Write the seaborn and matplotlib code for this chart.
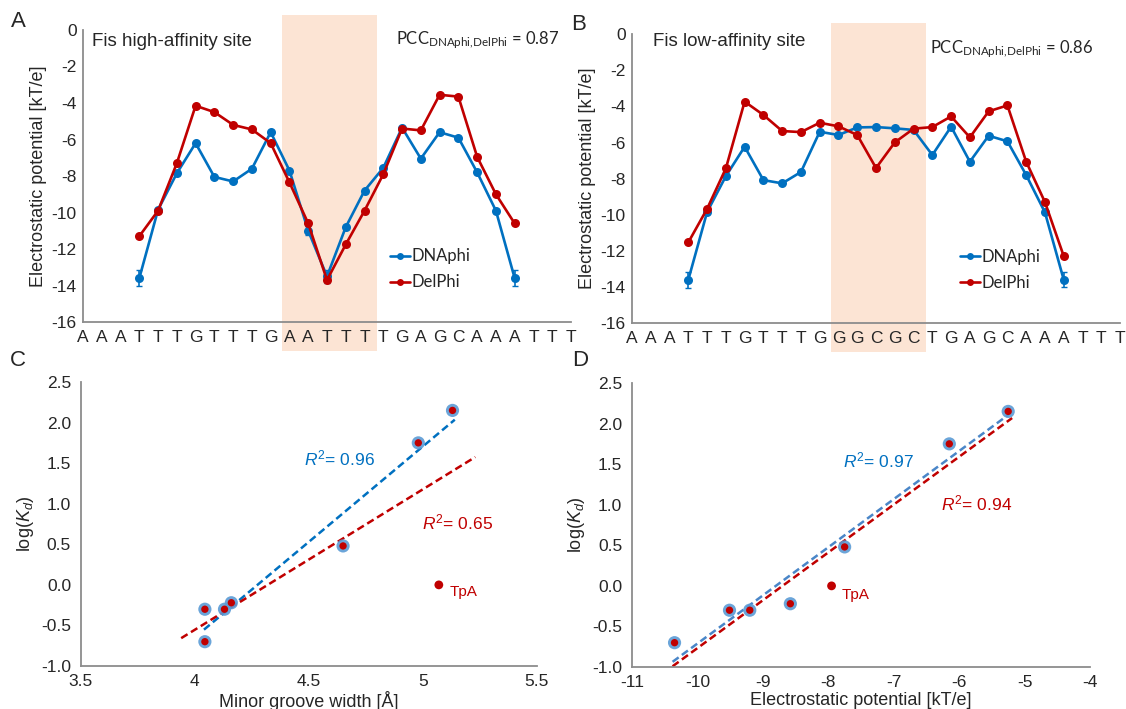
import matplotlib
matplotlib.use('Agg')
import matplotlib.pyplot as plt
import numpy as np
import seaborn as sns
from matplotlib.patches import Rectangle

# 序列 (x 轴标签)
seq_high = list("AAATTTGTTTGAATTTTGAGCAAATTT")
seq_low = list("AAATTTGTTTGGGCGCTGAGCAAATTT")

# 有数值的碱基位置 (序列下标)
site_pos = list(range(3, 24))

# A: Fis high-affinity site
high_dnaphi = [-13.6, -9.85, -7.85, -6.2, -8.05, -8.3, -7.6, -5.6, -7.7, -11.0, -13.5,
               -10.8, -8.8, -7.55, -5.35, -7.05, -5.6, -5.9, -7.8, -9.9, -13.6]
high_dnaphi_err = [0.45, 0.1, 0.1, 0.05, 0.05, 0.05, 0.05, 0.05, 0.1, 0.25, 0.35,
                   0.1, 0.05, 0.05, 0.05, 0.05, 0.05, 0.05, 0.05, 0.1, 0.45]
high_delphi = [-11.3, -9.9, -7.3, -4.15, -4.5, -5.2, -5.45, -6.2, -8.35, -10.6, -13.7,
               -11.75, -9.9, -7.9, -5.4, -5.5, -3.55, -3.65, -6.95, -9.0, -10.6]

# B: Fis low-affinity site
low_dnaphi = [-13.6, -9.85, -7.86, -6.23, -8.08, -8.26, -7.63, -5.4, -5.58, -5.16, -5.14,
              -5.21, -5.3, -6.69, -5.12, -7.06, -5.62, -5.93, -7.8, -9.87, -13.6]
low_dnaphi_err = [0.45, 0.1, 0.1, 0.05, 0.05, 0.05, 0.05, 0.05, 0.05, 0.05, 0.05,
                  0.05, 0.05, 0.05, 0.05, 0.05, 0.05, 0.05, 0.05, 0.1, 0.4]
low_delphi = [-11.53, -9.67, -7.43, -3.73, -4.47, -5.36, -5.42, -4.9, -5.1, -5.58, -7.41,
              -5.99, -5.23, -5.14, -4.55, -5.71, -4.27, -3.94, -7.06, -9.3, -12.29]

# 高亮区域 (序列下标)
core_span = [10.62, 15.65]

# C/D: 结合常数 vs 形状/静电
log_kd = [-0.70, -0.30, -0.30, -0.22, 0.48, 1.75, 2.15]
groove_width = [4.044, 4.044, 4.13, 4.16, 4.65, 4.98, 5.13]
potential = [-10.35, -9.51, -9.20, -8.58, -7.75, -6.15, -5.25]
tpa_kd = 0.0
tpa_groove = 5.07
tpa_potential = -7.95

# 拟合线范围
fit_c_blue = [4.04, 5.14]
fit_c_red = [3.94, 5.23]
fit_d_blue = [-10.38, -5.25]
fit_d_red = [-10.38, -5.19]

BLUE = '#0070C0'
RED = '#C00000'
LIGHT_BLUE = '#5b9bd5'
BAND = '#fce4d4'
GREY = '#8c8c8c'

sns.set_style('white')
plt.rcParams['font.family'] = ['Liberation Sans', 'DejaVu Sans']
plt.rcParams['axes.unicode_minus'] = False
plt.rcParams['mathtext.fontset'] = 'custom'
plt.rcParams['mathtext.rm'] = 'Liberation Sans'
plt.rcParams['mathtext.it'] = 'Liberation Sans:italic'

fig = plt.figure(figsize=(11.26, 7.09), dpi=100)


def style_axes(ax, ydir='out'):
    sns.despine(ax=ax)
    for side in ['left', 'bottom']:
        ax.spines[side].set_color(GREY)
        ax.spines[side].set_linewidth(1.3)
    ax.tick_params(axis='x', direction='out', length=4, width=1.2, color=GREY,
                   labelsize=12.5, pad=2)
    ax.tick_params(axis='y', direction=ydir, length=5, width=1.2, color=GREY,
                   labelsize=12.5, pad=2)
    ax.set_facecolor('none')


def profile_panel(ax, seq, dnaphi, dnaphi_err, delphi, title, pcc, band_top,
                  title_xy, pcc_xy, legend_xy):
    ax.add_patch(Rectangle((core_span[0], -0.1), core_span[1] - core_span[0],
                           band_top + 0.1, transform=ax.get_xaxis_transform(),
                           facecolor=BAND, edgecolor='none', clip_on=False, zorder=0))
    ax.errorbar(site_pos, dnaphi, yerr=dnaphi_err, fmt='none', ecolor=BLUE,
                elinewidth=1.2, capsize=2.5, zorder=2)
    sns.lineplot(x=site_pos, y=dnaphi, ax=ax, color=BLUE, marker='o', markersize=6.5,
                 markeredgewidth=0, linewidth=1.9, label='DNAphi', zorder=3)
    sns.lineplot(x=site_pos, y=delphi, ax=ax, color=RED, marker='o', markersize=6.5,
                 markeredgewidth=0, linewidth=1.9, label='DelPhi', zorder=4)
    ax.set_xlim(0, len(seq) - 1)
    ax.set_ylim(-16, 0)
    ax.set_yticks(np.arange(-16, 1, 2))
    ax.set_xticks(range(len(seq)))
    ax.set_xticklabels(seq, fontsize=14.5)
    ax.set_ylabel('Electrostatic potential [kT/e]', fontsize=13, labelpad=3)
    style_axes(ax, ydir='inout')
    ax.text(title_xy[0], title_xy[1], title, transform=ax.transAxes, fontsize=13.5,
            va='center', ha='left')
    ax.text(pcc_xy[0], pcc_xy[1],
            r'PCC$_{\mathregular{DNAphi{,}DelPhi}}$ = ' + pcc,
            transform=ax.transAxes, fontsize=12, va='center', ha='right',
            family=['Lato', 'DejaVu Sans'])
    leg = ax.legend(loc='center left', bbox_to_anchor=legend_xy, frameon=False,
                    handlelength=1.2, handletextpad=0.1, labelspacing=0.6,
                    prop={'family': ['Lato', 'DejaVu Sans'], 'size': 12})
    for line in leg.get_lines():
        line.set_markersize(5)
    return leg


def scatter_panel(ax, xs, tpa_x, blue_range, red_range, xlim, xticks, xticklabels,
                  xlabel, r2_blue, r2_red, blue_xy, red_xy, tpa_xy, blue_line_color):
    # 拟合: 蓝线不含 TpA, 红线含 TpA
    xb = np.array(xs)
    yb = np.array(log_kd)
    xr = np.append(xb, tpa_x)
    yr = np.append(yb, tpa_kd)
    pb = np.polyfit(xb, yb, 1)
    pr = np.polyfit(xr, yr, 1)
    ax.plot(blue_range, np.polyval(pb, blue_range), '--', color=blue_line_color,
            linewidth=1.8, dashes=(3, 1.6), zorder=2)
    ax.plot(red_range, np.polyval(pr, red_range), '--', color=RED,
            linewidth=1.8, dashes=(3, 1.6), zorder=2)
    sns.scatterplot(x=xs, y=log_kd, ax=ax, s=90, color=LIGHT_BLUE, edgecolor='none',
                    alpha=0.9, zorder=3)
    sns.scatterplot(x=xs, y=log_kd, ax=ax, s=28, color=RED, edgecolor='none', zorder=4)
    sns.scatterplot(x=[tpa_x], y=[tpa_kd], ax=ax, s=40, color=RED, edgecolor='none',
                    zorder=4)
    ax.set_xlim(*xlim)
    ax.set_ylim(-1.0, 2.5)
    ax.set_xticks(xticks)
    ax.set_xticklabels(xticklabels)
    ax.set_yticks(np.arange(-1.0, 2.51, 0.5))
    ax.set_yticklabels([f'{v:.1f}' for v in np.arange(-1.0, 2.51, 0.5)])
    ax.set_xlabel(xlabel, fontsize=13, labelpad=1)
    ax.set_ylabel(r'log($\mathit{K_d}$)', fontsize=13, labelpad=4)
    style_axes(ax)
    ax.text(blue_xy[0], blue_xy[1], r'$\mathit{R}^{\mathregular{2}}$= ' + r2_blue,
            color=BLUE, fontsize=12.5, va='center', ha='left')
    ax.text(red_xy[0], red_xy[1], r'$\mathit{R}^{\mathregular{2}}$= ' + r2_red,
            color=RED, fontsize=12.5, va='center', ha='left')
    ax.text(tpa_xy[0], tpa_xy[1], 'TpA', color=RED, fontsize=11,
            va='center', ha='left')


# A
ax_a = fig.add_axes([0.0737, 0.5458, 0.4334, 0.4119])
profile_panel(ax_a, seq_high, high_dnaphi, high_dnaphi_err, high_delphi,
              'Fis high-affinity site', '0.87', 1.051,
              (0.018, 0.96), (0.975, 0.966), (0.598, 0.18))

# B
ax_b = fig.add_axes([0.5613, 0.5444, 0.4334, 0.4072])
profile_panel(ax_b, seq_low, low_dnaphi, low_dnaphi_err, low_delphi,
              'Fis low-affinity site', '0.86', 1.039,
              (0.044, 0.974), (0.945, 0.948), (0.641, 0.183))

# C
ax_c = fig.add_axes([0.0718, 0.0606, 0.4050, 0.4006])
scatter_panel(ax_c, groove_width, tpa_groove, fit_c_blue, fit_c_red,
              (3.5, 5.5), [3.5, 4, 4.5, 5, 5.5], ['3.5', '4', '4.5', '5', '5.5'],
              'Minor groove width [Å]', '0.96', '0.65',
              (4.478, 1.56), (4.994, 0.765), (5.117, -0.085), BLUE)

# D
ax_d = fig.add_axes([0.5613, 0.0592, 0.4067, 0.4006])
scatter_panel(ax_d, potential, tpa_potential, fit_d_blue, fit_d_red,
              (-11, -4), list(range(-11, -3)), [str(v) for v in range(-11, -3)],
              'Electrostatic potential [kT/e]', '0.97', '0.94',
              (-7.775, 1.54), (-6.275, 1.02), (-7.79, -0.107), '#4a86c8')

# 面板字母
for label, x, y in [('A', 0.016, 0.969), ('B', 0.514, 0.965),
                    ('C', 0.016, 0.492), ('D', 0.515, 0.492)]:
    fig.text(x, y, label, fontsize=16, ha='center', va='center')

fig.savefig('out.png', dpi=100)
plt.close(fig)
